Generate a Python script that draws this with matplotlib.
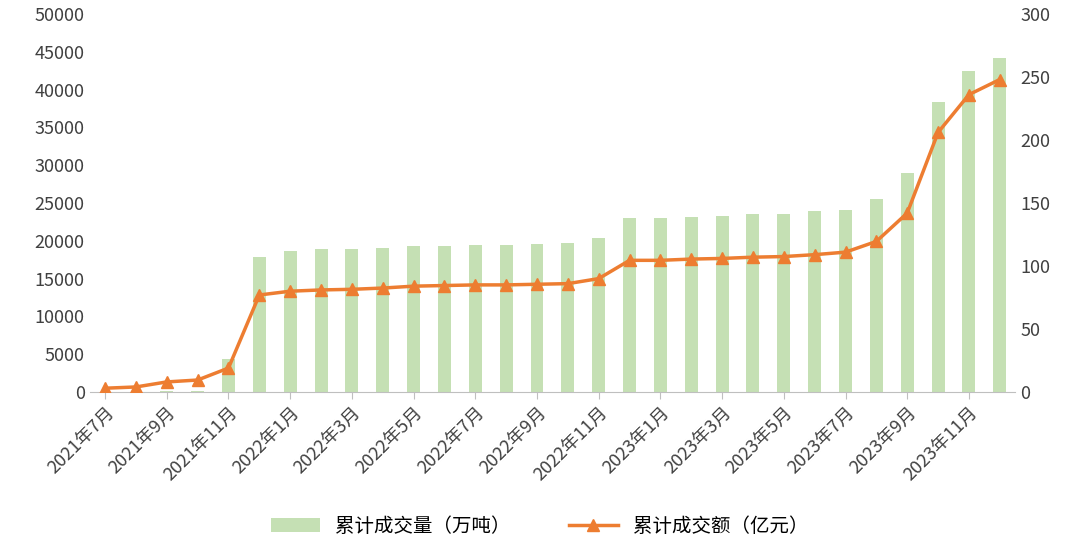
import matplotlib
matplotlib.use("Agg")
import matplotlib.pyplot as plt
import numpy as np

plt.rcParams['font.family'] = ['Noto Sans CJK SC', 'DejaVu Sans']

months = [f"{y}年{m}月" for y, ms in [(2021, range(7, 13)), (2022, range(1, 13)), (2023, range(1, 13))] for m in ms]
volume = [30, 50, 80, 120, 4300, 17900, 18700, 18900, 18900, 19100, 19300, 19300, 19500, 19500, 19600,
          19700, 20400, 23000, 23000, 23200, 23300, 23500, 23600, 23900, 24100, 25500, 29000, 38300, 42500, 44200]
amount = [3, 4, 8, 9.5, 19, 77, 80, 81, 81.5, 82.5, 84, 84.5, 85, 85, 85.5, 86, 90, 104.5, 104.5, 105.5,
          106, 107, 107.5, 109, 111, 119.5, 142, 206, 236, 248]

fig = plt.figure(figsize=(10.8, 5.6), dpi=100)
ax = fig.add_axes([0.083, 0.30, 0.857, 0.675])
x = np.arange(len(months))
ax.bar(x, volume, width=0.42, color='#C5E0B4', label='累计成交量（万吨）')
ax.set_ylim(0, 50000)
ax.set_yticks(range(0, 50001, 5000))
ax.set_xlim(-0.5, len(months) - 0.5)
ax.set_xticks(x[::2])
ax.set_xticklabels(months[::2], rotation=45, ha='right', rotation_mode='anchor', fontsize=13, color='#404040')
ax.tick_params(axis='y', labelsize=13, colors='#404040', length=0)
ax.tick_params(axis='x', length=5, color='#BFBFBF')
for s in ['top', 'right', 'left']:
    ax.spines[s].set_visible(False)
ax.spines['bottom'].set_color('#BFBFBF')

ax2 = ax.twinx()
ax2.plot(x, amount, color='#ED7D31', lw=2.5, marker='^', markersize=9, label='累计成交额（亿元）')
ax2.set_ylim(0, 300)
ax2.set_yticks(range(0, 301, 50))
ax2.tick_params(axis='y', labelsize=13, colors='#404040', length=0)
for s in ['top', 'right', 'left', 'bottom']:
    ax2.spines[s].set_visible(False)

h1, l1 = ax.get_legend_handles_labels()
h2, l2 = ax2.get_legend_handles_labels()
fig.legend(h1 + h2, l1 + l2, loc='center', bbox_to_anchor=(0.5, 0.06), ncol=2, frameon=False,
           fontsize=14, columnspacing=3, handlelength=2.5)
fig.savefig('out.png')
